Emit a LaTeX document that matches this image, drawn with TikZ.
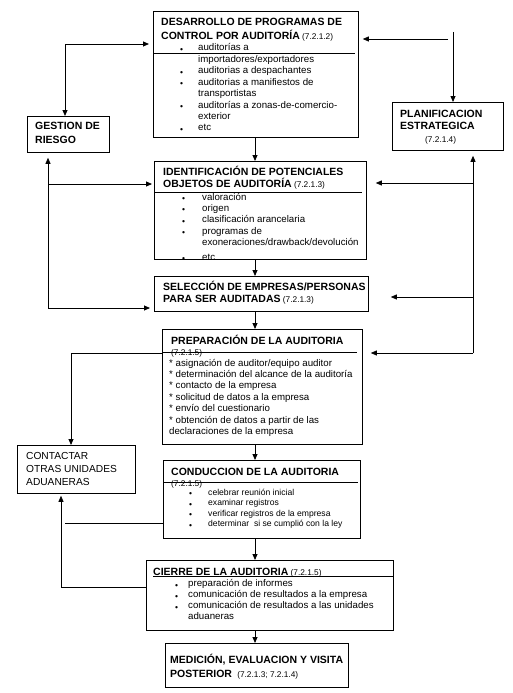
\documentclass[tikz,border=0pt]{standalone}
\usepackage{fontspec}
\setmainfont{Liberation Sans}
\usetikzlibrary{arrows.meta}
\newcommand\mysecno[1]{{\fontsize{8.3}{10}\selectfont\mdseries\ #1}}
\begin{document}
\begin{tikzpicture}[x=1pt,y=-1pt,
  box/.style={draw, line width=0.8pt, inner sep=0pt, anchor=north west},
  ttl/.style={anchor=base west, inner sep=0pt, font=\fontsize{10.5}{12}\selectfont\bfseries},
  lst/.style={anchor=base west, inner sep=0pt, font=\fontsize{9.7}{11}\selectfont},
  lsts/.style={anchor=base west, inner sep=0pt, font=\fontsize{8.6}{10}\selectfont},
  sml/.style={anchor=base west, inner sep=0pt, font=\fontsize{8.3}{10}\selectfont},
  reg/.style={anchor=base west, inner sep=0pt, font=\fontsize{10.2}{12}\selectfont},
  bul/.style={anchor=base west, inner sep=0pt, font=\fontsize{8.5}{10}\selectfont},
  ln/.style={line width=0.8pt},
  arr/.style={-{Triangle[length=6pt,width=5pt]}, line width=0.8pt},
  arrtwo/.style={{Triangle[length=6pt,width=5pt]}-{Triangle[length=6pt,width=5pt]}, line width=0.8pt}]
\useasboundingbox (0,0) rectangle (513,693);

% boxes
\node[box, minimum width=205pt, minimum height=126pt] (des) at (153,11) {};
\node[box, minimum width=82pt, minimum height=36pt] (ges) at (27,116) {};
\node[box, minimum width=111pt, minimum height=48pt] (pla) at (392,102) {};
\node[box, minimum width=212pt, minimum height=98pt] (ide) at (154,161) {};
\node[box, minimum width=214pt, minimum height=35pt] (sel) at (154,276) {};
\node[box, minimum width=200pt, minimum height=115pt] (pre) at (162,329) {};
\node[box, minimum width=118pt, minimum height=48pt] (con) at (17,445) {};
\node[box, minimum width=197pt, minimum height=78pt] (cond) at (163,460) {};
\node[box, minimum width=247pt, minimum height=70pt] (cie) at (146,560) {};
\node[box, minimum width=183pt, minimum height=44pt] (med) at (165,643) {};

% DESARROLLO
\node[ttl] (des-t1) at (161,26) {DESARROLLO DE PROGRAMAS DE};
\node[ttl] (des-t2) at (161,40) {CONTROL POR AUDITORÍA\mysecno{(7.2.1.2)}};
\draw[ln] (153,53) -- (355,53);
\foreach \s [count=\i from 0] in {auditorías a,importadores/exportadores,auditorias a despachantes,auditorias a manifiestos de,transportistas,auditorías a zonas-de-comercio-,exterior,etc}
  \node[lst] (des-l\i) at (198,{51+11.4*\i}) {\s};
\foreach \i in {0,2,3,5,7}
  \node[bul] (des-b\i) at (180,{52.5+11.4*\i}) {\textbullet};

% GESTION
\node[ttl] (ges-t1) at (35,129) {GESTION DE};
\node[ttl] (ges-t2) at (35,143) {RIESGO};

% PLANIFICACION
\node[ttl] (pla-t1) at (400,117) {PLANIFICACION};
\node[ttl] (pla-t2) at (400,129) {ESTRATEGICA};
\node[sml] (pla-t3) at (425,142) {(7.2.1.4)};

% IDENTIFICACION
\node[ttl] (ide-t1) at (163,175) {IDENTIFICACIÓN DE POTENCIALES};
\node[ttl] (ide-t2) at (163,187) {OBJETOS DE AUDITORÍA\mysecno{(7.2.1.3)}};
\draw[ln] (154,192) -- (362,192);
\foreach \s [count=\i from 0] in {valoración,origen,clasificación arancelaria,programas de,exoneraciones/drawback/devolución}
  \node[lst] (ide-l\i) at (202,{200+11.4*\i}) {\s};
\foreach \i in {0,1,2,3}
  \node[bul] (ide-b\i) at (182,{201.5+11.4*\i}) {\textbullet};
\begin{scope}
  \clip (ide.north west) rectangle ([yshift=0.5pt]ide.south east);
  \node[lst] (ide-l5) at (202,260) {etc};
  \node[bul] (ide-b5) at (182,261.5) {\textbullet};
\end{scope}

% SELECCION
\node[ttl] (sel-t1) at (163,290) {SELECCIÓN DE EMPRESAS/PERSONAS};
\node[ttl] (sel-t2) at (163,302) {PARA SER AUDITADAS\mysecno{(7.2.1.3)}};

% PREPARACION
\node[ttl] (pre-t1) at (171,344) {PREPARACIÓN DE LA AUDITORIA};
\node[sml] (pre-t2) at (171,355) {(7.2.1.5)};
\draw[ln] (162,352.5) -- (357,352.5);
\foreach \s [count=\i from 0] in {* asignación de auditor/equipo auditor,* determinación del alcance de la auditoría,* contacto de la empresa,* solicitud de datos a la empresa,* envío del cuestionario,* obtención de datos a partir de las,declaraciones de la empresa}
  \node[lst] (pre-l\i) at (169,{366+11.4*\i}) {\s};

% CONTACTAR
\node[reg] (con-t1) at (26,459) {CONTACTAR};
\node[reg] (con-t2) at (26,472) {OTRAS UNIDADES};
\node[reg] (con-t3) at (26,485) {ADUANERAS};

% CONDUCCION
\node[ttl] (cond-t1) at (171,475) {CONDUCCION DE LA AUDITORIA};
\node[sml] (cond-t2) at (171,486) {(7.2.1.5)};
\draw[ln] (163,482) -- (358,482);
\foreach \s [count=\i from 0] in {celebrar reunión inicial,examinar registros,verificar registros de la empresa,determinar\ \ si se cumplió con la ley}
  \node[lsts] (cond-l\i) at (208,{495+10.5*\i}) {\s};
\foreach \i in {0,1,2,3}
  \node[bul] (cond-b\i) at (189,{496.5+10.5*\i}) {\textbullet};

% CIERRE
\node[ttl] (cie-t1) at (153,575) {CIERRE DE LA AUDITORIA\mysecno{(7.2.1.5)}};
\draw[ln] (153,576.8) -- (393,576.8);
\foreach \s [count=\i from 0] in {preparación de informes,comunicación de resultados a la empresa,comunicación de resultados a las unidades,aduaneras}
  \node[lst] (cie-l\i) at (188,{586.5+11*\i}) {\s};
\foreach \i in {0,1,2}
  \node[bul] (cie-b\i) at (175,{588+11*\i}) {\textbullet};

% MEDICION
\node[ttl] (med-t1) at (170,663) {MEDICIÓN, EVALUACION Y VISITA};
\node[ttl] (med-t2) at (170,677) {POSTERIOR\ \mysecno{(7.2.1.3; 7.2.1.4)}};

% central arrows
\coordinate (cx) at (255,0);
\draw[arr] (des.south -| cx) -- (ide.north -| cx);
\draw[arr] (ide.south -| cx) -- (sel.north -| cx);
\draw[arr] (sel.south -| cx) -- (pre.north -| cx);
\draw[arr] (pre.south -| cx) -- (cond.north -| cx);
\draw[arr] (cond.south -| cx) -- (cie.north -| cx);
\draw[arr] (cie.south -| cx) -- (med.north -| cx);

% top left
\coordinate (L1) at (65,44);
\draw[arrtwo, shorten >=4pt] (ges.north -| L1) |- (des.west |- L1);
% top right
\coordinate (R1) at (453,32);
\draw[arr] (R1) -- (R1 |- pla.north);
\coordinate (R2) at (448,39);
\draw[arr, shorten >=4pt] (R2) -- (des.east |- R2);
% right side
\coordinate (R3) at (473,353);
\coordinate (R4) at (473,183);
\coordinate (R5) at (473,297);
\draw[arr, shorten >=5pt] (R3) -- (R3 |- pla.south);
\draw[arr, shorten >=9pt] (R4) -- (ide.east |- R4);
\draw[arr, shorten >=22pt] (R5) -- (sel.east |- R5);
\draw[arr, shorten >=8pt] (R3) -- (pre.east |- R3);
% left side
\coordinate (L2) at (48,308);
\coordinate (L3) at (48,184);
\draw[arr, shorten >=5pt] (L2) -- (L2 |- ges.south);
\draw[arr, shorten >=2pt] (L3) -- (ide.west |- L3);
\draw[arr, shorten >=4pt] (L2) -- (sel.west |- L2);
% lower left
\coordinate (P1) at (71,353);
\draw[arr] (pre.west |- P1) -| (con.north -| P1);
\coordinate (C1) at (65,523);
\draw[ln] (C1) -- (cond.west |- C1);
\coordinate (C2) at (61,587);
\draw[arr, shorten >=2pt] (cie.west |- C2) -| (con.south -| C2);
\end{tikzpicture}
\end{document}
